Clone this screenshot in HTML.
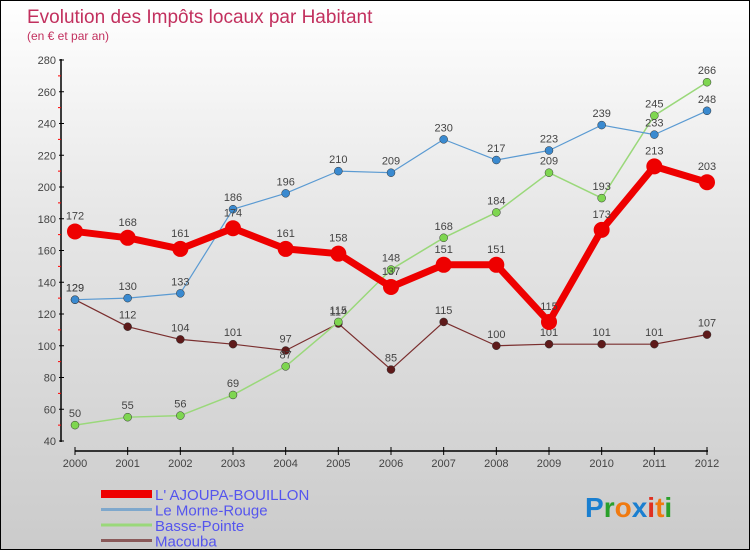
<!DOCTYPE html>
<html><head><meta charset="utf-8"><style>
body{margin:0}
#c{width:748px;height:548px;border:1px solid #000;background:linear-gradient(#ffffff,#e6e6e6 40%,#cbcbcb);position:relative;font-family:"Liberation Sans",sans-serif}
svg{position:absolute;left:0;top:0}
</style></head><body>
<div id="c">
<svg id="s" width="748" height="548" xmlns="http://www.w3.org/2000/svg">
<text x="26" y="22" font-size="19" fill="#c2305e">Evolution des Impôts locaux par Habitant</text>
<text x="26" y="39" font-size="12" fill="#c2305e">(en € et par an)</text>
<g id="g"></g>
</svg>
</div>
<script>
const years=[2000,2001,2002,2003,2004,2005,2006,2007,2008,2009,2010,2011,2012];
const yTicks=[40,60,80,100,120,140,160,180,200,220,240,260,280];
const ajoupa=[172,168,161,174,161,158,137,151,151,115,173,213,203];
const morne=[129,130,133,186,196,210,209,230,217,223,239,233,248];
const basse=[50,55,56,69,87,115,148,168,184,209,193,245,266];
const macouba=[129,112,104,101,97,114,85,115,100,101,101,101,107];
const names=["L' AJOUPA-BOUILLON","Le Morne-Rouge","Basse-Pointe","Macouba"];
const NS="http://www.w3.org/2000/svg";
const g=document.getElementById('g');
const xs=i=>74+i*(632/12);
const ys=v=>440-(v-40)*(381/240);
function el(t,a,p){const e=document.createElementNS(NS,t);for(const k in a)e.setAttribute(k,a[k]);(p||g).appendChild(e);return e;}
// axes
let ax=el('line',{x1:60,y1:58,x2:60,y2:441,stroke:'#000','stroke-width':1.5});


let bx=el('line',{x1:74,y1:450,x2:707,y2:450,stroke:'#000','stroke-width':1.5});


yTicks.forEach((v,i)=>{
  el('line',{x1:58,y1:ys(v),x2:63,y2:ys(v),stroke:'#000'});
  if(i<yTicks.length-1) el('line',{x1:57,y1:ys(v+10),x2:60,y2:ys(v+10),stroke:'#f00'});
  const t=el('text',{x:55,y:ys(v)+4,'font-size':11,fill:'#444','text-anchor':'end'});t.textContent=v;
  
  
});
years.forEach((y,i)=>{
  el('line',{x1:xs(i),y1:446,x2:xs(i),y2:454,stroke:'#000'});
  const t=el('text',{x:xs(i),y:466,'font-size':11,fill:'#444','text-anchor':'middle'});t.textContent=y;
  
  
});
function series(data,color,w,r,fill,name,lab){
  const p=el('polyline',{points:data.map((v,i)=>xs(i)+','+ys(v)).join(' '),fill:'none',stroke:color,'stroke-width':w,'stroke-linejoin':'round'});
  
  
  data.forEach((v,i)=>{
    const c=el('circle',{cx:xs(i),cy:ys(v),r:r,fill:fill,stroke:w>3?'none':'#333','stroke-width':0.5});
    
    
    if(lab){const t=el('text',{x:xs(i),y:ys(v)-8-(w>3?4:0),'font-size':11,fill:'#444','text-anchor':'middle'});t.textContent=v;
    
    }
  });
}
series(macouba,'#7a2e2e',1.2,4,'#5e1a1a','macouba',true);
series(basse,'#9ad87a',1.5,4,'#7ed650','basse-pointe',true);
series(morne,'#5a9ad2',1.2,4,'#3a8ad0','morne-rouge',true);
series(ajoupa,'#ee0000',7,8,'#ee0000','ajoupa-bouillon',true);
// legend
const lc=['#ee0000','#7fa8cc','#9ad87a','#8a5a5a'];const lw=[8,3,3,3];
names.forEach((n,i)=>{
  const y=493+i*15.5;
  const l=el('line',{x1:100,y1:y,x2:151,y2:y,stroke:lc[i],'stroke-width':lw[i]});
  
  
  const t=el('text',{x:154,y:y+6,'font-size':15,fill:'#5555ee'});t.textContent=n;
  
  
});
const logo=el('text',{x:584,y:516,'font-size':28,'font-weight':'bold'});


[['P','#1a7fd0'],['r','#2aa02a'],['o','#f07a10'],['x','#1a7fd0'],['i','#e03020'],['t','#f07a10'],['i','#2aa02a']].forEach(([c,f])=>{const s=el('tspan',{fill:f},logo);s.textContent=c;});
</script>
</body></html>
